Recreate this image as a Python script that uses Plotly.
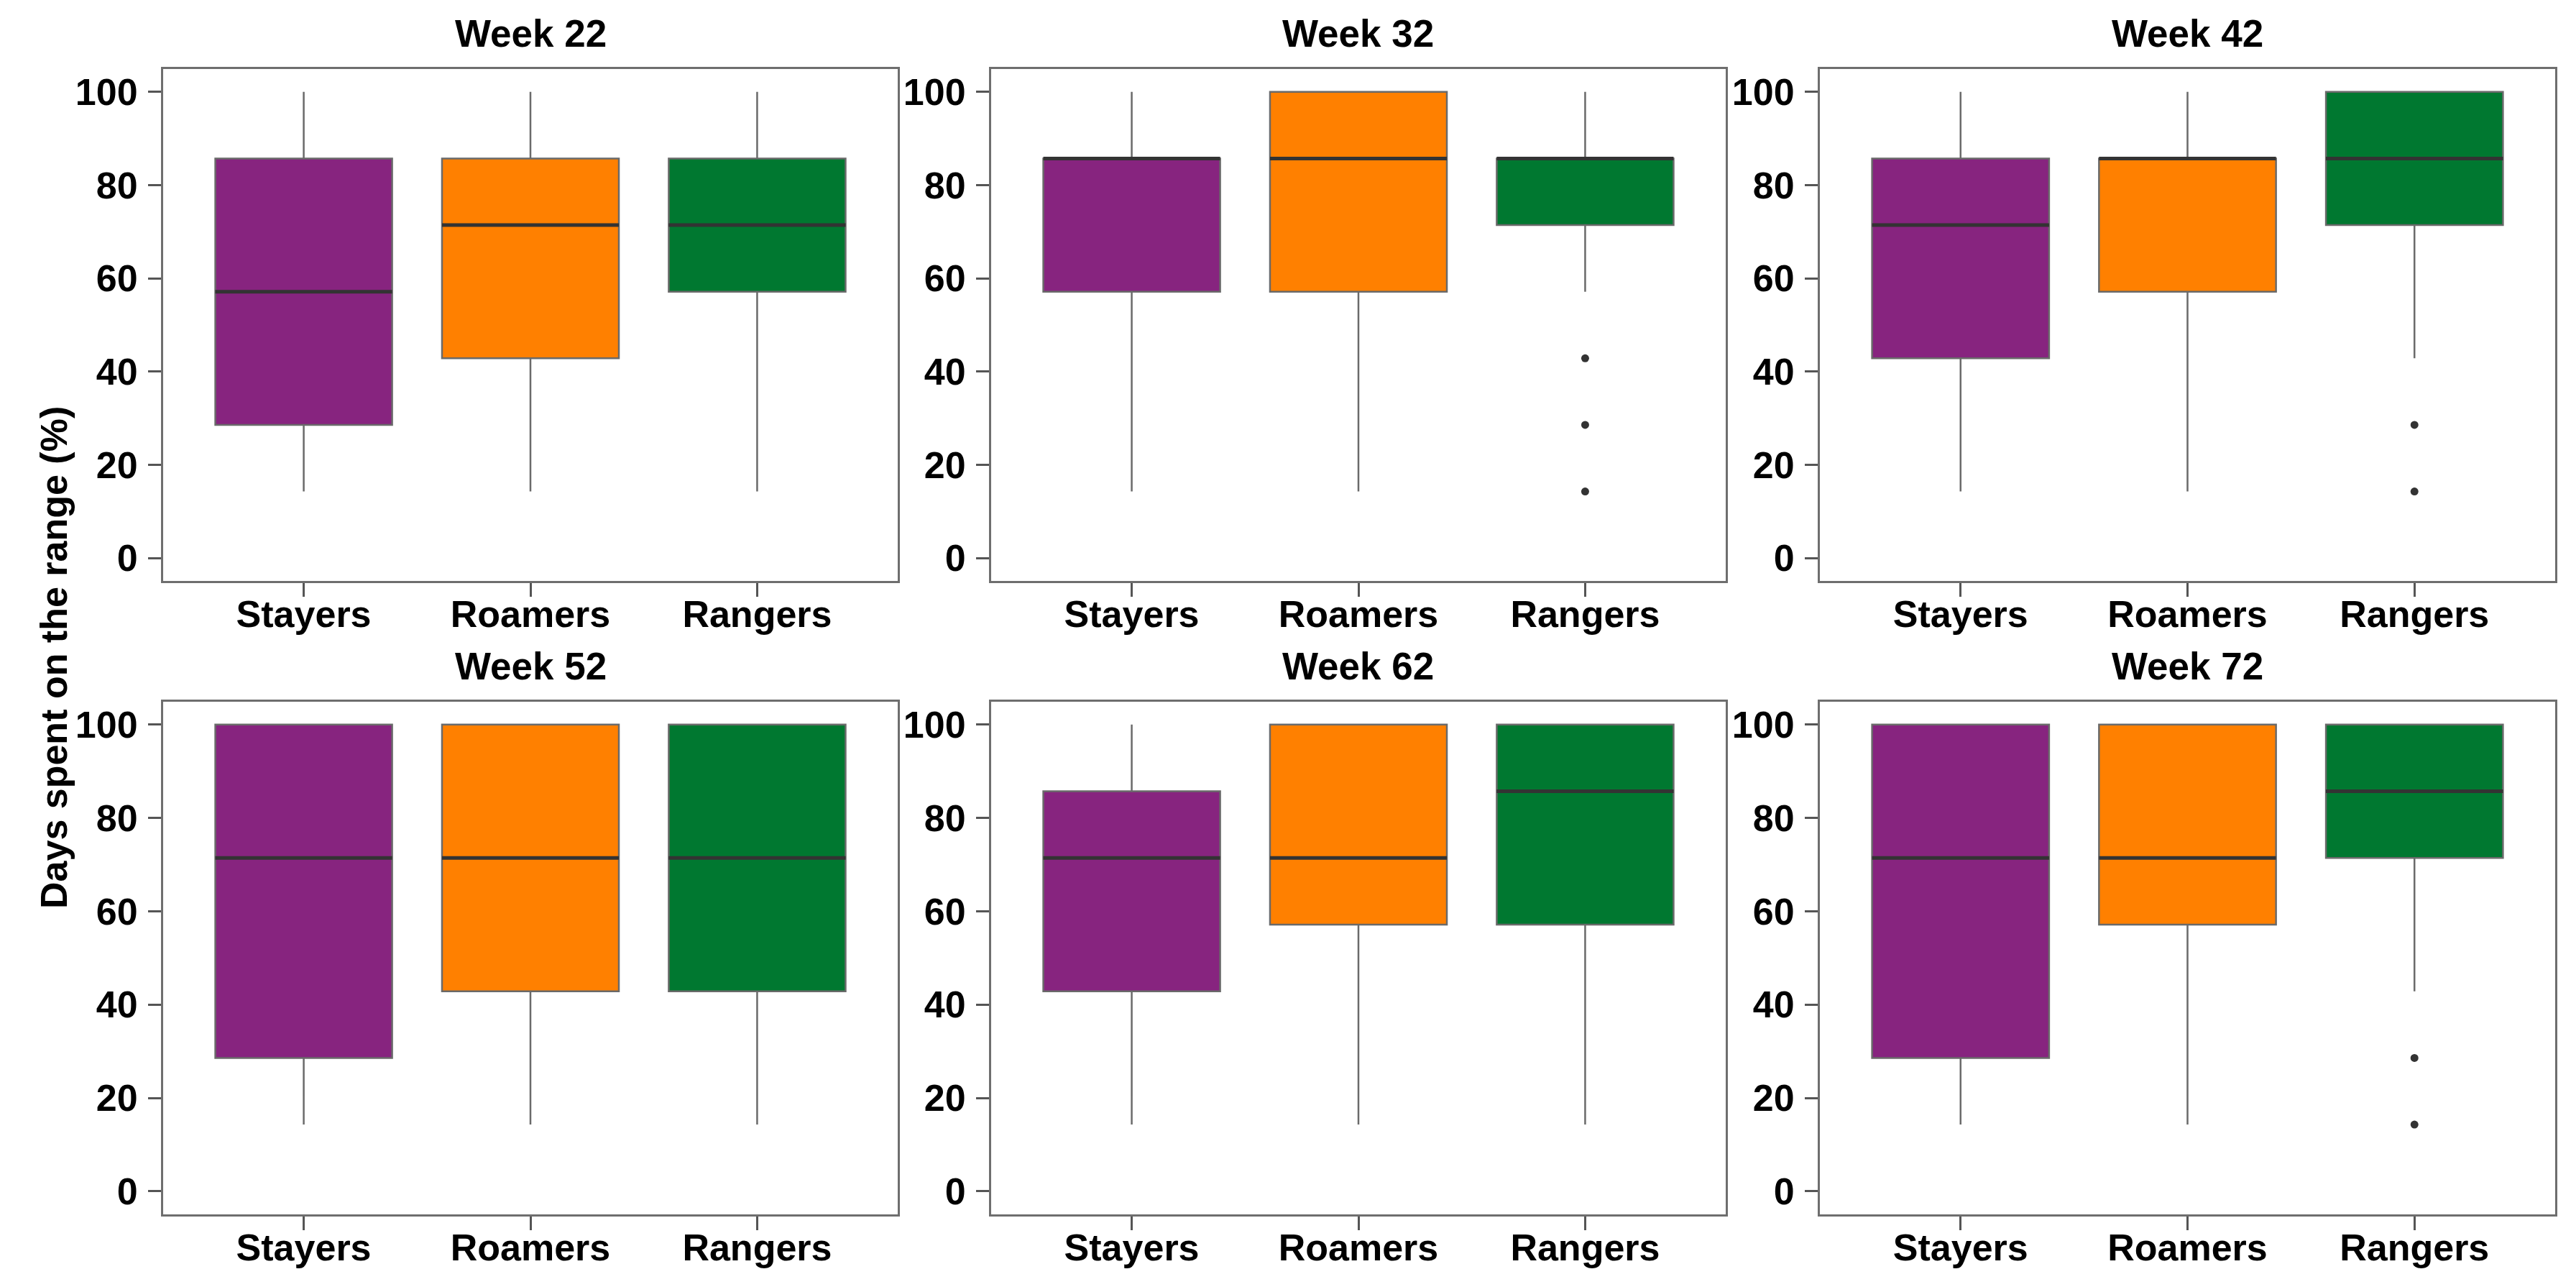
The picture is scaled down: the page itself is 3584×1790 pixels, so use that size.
import plotly.graph_objects as go

categories = ["Stayers", "Roamers", "Rangers"]
weeks = ["Week 22", "Week 32", "Week 42", "Week 52", "Week 62", "Week 72"]
colors = ["#87247F", "#FF8000", "#007830"]

# box statistics per week (rows) and group (columns), in % of days
lower_whisker = [
    [14.29, 14.29, 14.29],
    [14.29, 14.29, 57.14],
    [14.29, 14.29, 42.86],
    [14.29, 14.29, 14.29],
    [14.29, 14.29, 14.29],
    [14.29, 14.29, 42.86],
]
q1 = [
    [28.57, 42.86, 57.14],
    [57.14, 57.14, 71.43],
    [42.86, 57.14, 71.43],
    [28.57, 42.86, 42.86],
    [42.86, 57.14, 57.14],
    [28.57, 57.14, 71.43],
]
median = [
    [57.14, 71.43, 71.43],
    [85.71, 85.71, 85.71],
    [71.43, 85.71, 85.71],
    [71.43, 71.43, 71.43],
    [71.43, 71.43, 85.71],
    [71.43, 71.43, 85.71],
]
q3 = [
    [85.71, 85.71, 85.71],
    [85.71, 100.0, 85.71],
    [85.71, 85.71, 100.0],
    [100.0, 100.0, 100.0],
    [85.71, 100.0, 100.0],
    [100.0, 100.0, 100.0],
]
upper_whisker = [
    [100.0, 100.0, 100.0],
    [100.0, 100.0, 100.0],
    [100.0, 100.0, 100.0],
    [100.0, 100.0, 100.0],
    [100.0, 100.0, 100.0],
    [100.0, 100.0, 100.0],
]
outliers = [
    [[], [], []],
    [[], [], [42.86, 28.57, 14.29]],
    [[], [], [28.57, 14.29]],
    [[], [], []],
    [[], [], []],
    [[], [], [28.57, 14.29]],
]
y_ticks = [0, 20, 40, 60, 80, 100]

W, H = 3584, 1790
x_domains = [[219 / W, 1241 / W], [1371 / W, 2393 / W], [2524 / W, 3547 / W]]
y_domains = [[1 - 800 / H, 1 - 88 / H], [1 - 1680.6 / H, 1 - 968 / H]]

FONT = dict(family="Liberation Sans, Arial, sans-serif", size=52, color="black", weight="bold")
FRAME = "#6e6e6e"

fig = go.Figure()
layout = dict(
    width=W, height=H,
    margin=dict(l=0, r=0, t=0, b=0),
    paper_bgcolor="white", plot_bgcolor="white",
    showlegend=False, boxmode="overlay",
    font=FONT,
)
annotations = []

for w in range(6):
    row, col = divmod(w, 3)
    sfx = "" if w == 0 else str(w + 1)
    xa, ya = "x" + sfx, "y" + sfx
    for g, cat in enumerate(categories):
        fig.add_trace(go.Box(
            x=[cat], q1=[q1[w][g]], median=[median[w][g]], q3=[q3[w][g]],
            lowerfence=[lower_whisker[w][g]], upperfence=[upper_whisker[w][g]],
            fillcolor=colors[g], line=dict(color="#6a6a6a", width=2.5),
            whiskerwidth=0, width=0.78, boxpoints=False,
            xaxis=xa, yaxis=ya, hoverinfo="skip",
        ))
        m = median[w][g]
        fig.add_trace(go.Box(
            x=[cat], q1=[m], median=[m], q3=[m], lowerfence=[m], upperfence=[m],
            fillcolor="rgba(0,0,0,0)", line=dict(color="#333333", width=5),
            whiskerwidth=0, width=0.78, boxpoints=False,
            xaxis=xa, yaxis=ya, hoverinfo="skip",
        ))
        if outliers[w][g]:
            fig.add_trace(go.Scatter(
                x=[cat] * len(outliers[w][g]), y=outliers[w][g], mode="markers",
                marker=dict(color="#333333", size=11),
                xaxis=xa, yaxis=ya, hoverinfo="skip",
            ))
    layout["xaxis" + sfx] = dict(
        domain=x_domains[col], anchor=ya, type="category",
        categoryorder="array", categoryarray=categories,
        range=[-0.62, 2.62], showgrid=False, zeroline=False,
        showline=True, mirror=True, linecolor=FRAME, linewidth=3,
        ticks="outside", ticklen=19, tickwidth=3, tickcolor="#555555",
        tickfont=FONT, ticklabelstandoff=-20,
    )
    layout["yaxis" + sfx] = dict(
        domain=y_domains[row], anchor=xa,
        range=[-4.9, 104.9], tickvals=y_ticks, showgrid=False, zeroline=False,
        showline=True, mirror=True, linecolor=FRAME, linewidth=3,
        ticks="outside", ticklen=18, tickwidth=3, tickcolor="#555555",
        tickfont=FONT, ticklabelstandoff=4,
    )
    annotations.append(dict(
        text=weeks[w], xref="paper", yref="paper",
        x=(x_domains[col][0] + x_domains[col][1]) / 2, y=y_domains[row][1],
        xanchor="center", yanchor="bottom", yshift=18, showarrow=False,
        font=dict(FONT, size=53),
    ))

annotations.append(dict(
    text="Days spent on the range (%)", xref="paper", yref="paper",
    x=67 / W, y=1 - 907 / H, xanchor="center", yanchor="middle",
    textangle=-90, showarrow=False, font=FONT,
))
layout["annotations"] = annotations
fig.update_layout(**layout)
fig.write_html("out.html")
